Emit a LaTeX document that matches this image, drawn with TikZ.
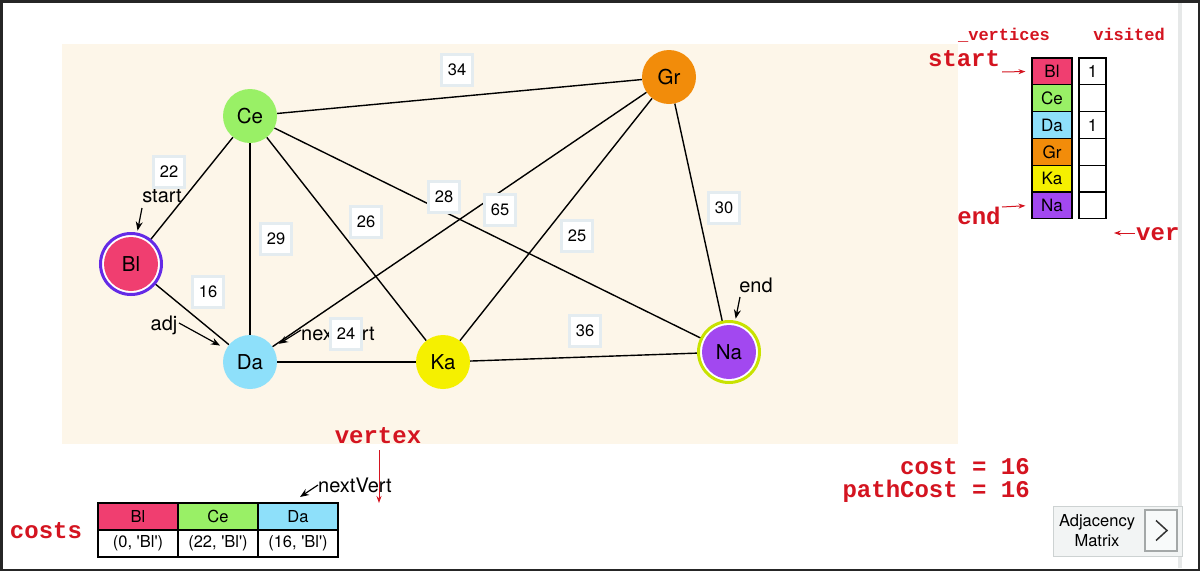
\documentclass[tikz,border=0pt]{standalone}
\usepackage{fontspec}
\setmainfont{TeX Gyre Heros}
\newfontfamily\monofont{Liberation Mono}
\usetikzlibrary{arrows.meta,calc}
\definecolor{cBl}{RGB}{240,62,112}
\definecolor{cCe}{RGB}{153,240,102}
\definecolor{cDa}{RGB}{142,224,250}
\definecolor{cGr}{RGB}{242,140,10}
\definecolor{cKa}{RGB}{245,240,0}
\definecolor{cNa}{RGB}{162,72,240}
\definecolor{ringBl}{RGB}{100,42,230}
\definecolor{ringNa}{RGB}{200,226,0}
\definecolor{codered}{RGB}{212,20,32}
\definecolor{panel}{RGB}{253,246,233}
\definecolor{lblborder}{RGB}{228,236,240}
\definecolor{btnfill}{RGB}{242,244,244}
\definecolor{btnline}{RGB}{205,210,210}
\definecolor{strip}{RGB}{230,232,232}
\pgfdeclarelayer{back}
\pgfsetlayers{back,main}
\tikzset{
  vtx/.style={circle, minimum size=54pt, inner sep=0pt, font=\fontsize{20.5}{20.5}\selectfont},
  ring/.style={circle, minimum size=61pt, inner sep=0pt, line width=3pt, fill=white},
  wlabel/.style={draw=lblborder, line width=3.5pt, fill=white, minimum width=31pt, minimum height=31pt, inner sep=0pt, font=\fontsize{16.5}{16.5}\selectfont},
  annot/.style={font=\fontsize{20}{20}\selectfont, inner sep=0pt, anchor=base},
  annarrow/.style={-{Stealth[length=9pt,width=7pt]}, line width=1.2pt},
  redtxt/.style={text=codered, font=\monofont\bfseries\fontsize{24}{24}\selectfont, inner sep=0pt, anchor=base},
  redsmall/.style={text=codered, font=\monofont\bfseries\fontsize{17}{17}\selectfont, inner sep=0pt, anchor=base},
  redarrow/.style={-{Stealth[length=7pt,width=5pt]}, draw=codered, line width=1pt},
  graphedge/.style={line width=1.4pt},
  vcell/.style={draw, line width=1.2pt, minimum width=40pt, minimum height=26.8pt, inner sep=0pt, font=\fontsize{17}{17}\selectfont},
  viscell/.style={draw, line width=1.2pt, minimum width=27pt, minimum height=26.8pt, inner sep=0pt, font=\fontsize{17}{17}\selectfont},
  ccell/.style={draw, line width=1.2pt, minimum width=80pt, minimum height=27pt, inner sep=0pt, font=\fontsize{16.5}{16.5}\selectfont},
}
\begin{document}
\begin{tikzpicture}[x=1pt,y=-1pt]
\useasboundingbox (0,0) rectangle (1200,571);
\begin{pgfonlayer}{back}
\fill[white] (0,0) rectangle (1200,571);
\fill[strip] (1178,2) rectangle (1182,568);
\fill[panel] (62,44) rectangle (958,444);
\end{pgfonlayer}

% annotations (under label boxes)
\node[annot] (aStart) at (162,202) {start};
\node[annot] (aAdj) at (164,330) {adj};
\node[annot, anchor=base west] (aNext) at (301,340) {nextVert};
\node[annot] (aEnd) at (756,292) {end};

% edge label boxes
\node[wlabel] (w34) at (457,70) {34};
\node[wlabel] (w22) at (169,172) {22};
\node[wlabel] (w29) at (276,239) {29};
\node[wlabel] (w16) at (208,292) {16};
\node[wlabel] (w24) at (346,334) {24};
\node[wlabel] (w26) at (366,222) {26};
\node[wlabel] (w28) at (444,197) {28};
\node[wlabel] (w65) at (500,210) {65};
\node[wlabel] (w25) at (577,236) {25};
\node[wlabel] (w30) at (724,208) {30};
\node[wlabel] (w36) at (585,331) {36};

% vertices
\node[ring, draw=ringBl] (BlR) at (131,264) {};
\node[ring, draw=ringNa] (NaR) at (729,352) {};
\node[vtx, fill=cCe] (Ce) at (250,116) {Ce};
\node[vtx, fill=cGr] (Gr) at (669,77) {Gr};
\node[vtx, fill=cBl] (Bl) at (131,264) {Bl};
\node[vtx, fill=cDa] (Da) at (250,362) {Da};
\node[vtx, fill=cKa] (Ka) at (443,362) {Ka};
\node[vtx, fill=cNa] (Na) at (729,352) {Na};

\begin{pgfonlayer}{back}
\draw[graphedge] (Ce) -- (Gr);
\draw[graphedge] (Ce) -- (Bl);
\draw[graphedge] (Ce) -- (Da);
\draw[graphedge] (Ce) -- (Ka);
\draw[graphedge] (Ce) -- (Na);
\draw[graphedge] (Gr) -- (Da);
\draw[graphedge] (Gr) -- (Ka);
\draw[graphedge] (Gr) -- (Na);
\draw[graphedge] (Bl) -- (Da);
\draw[graphedge] (Da) -- (Ka);
\draw[graphedge] (Ka) -- (Na);
\end{pgfonlayer}

% annotation arrows
\coordinate (sStart) at (142,208);
\coordinate (sAdj) at (179,323);
\coordinate (sNext) at (301,330);
\coordinate (sEnd) at (740,297);
\draw[annarrow, shorten >=2pt] (sStart) -- (BlR);
\draw[annarrow, shorten >=7pt] (sAdj) -- (Da);
\draw[annarrow, shorten >=7pt] (sNext) -- (Da);
\draw[annarrow, shorten >=2pt] (sEnd) -- (NaR);

% vertex table
\node[redsmall] (lVert) at (1004,40) {\_vertices};
\node[redsmall] (lVis) at (1129,40) {visited};
\foreach \n/\c [count=\i from 0] in {Bl/cBl,Ce/cCe,Da/cDa,Gr/cGr,Ka/cKa,Na/cNa} {
  \node[vcell, fill=\c] (t\n) at (1052,{71.4+26.8*\i}) {\n};
  \node[viscell] (s\n) at (1092.5,{71.4+26.8*\i}) {};
}
\node[font=\fontsize{17}{17}\selectfont] at (sBl) {1};
\node[font=\fontsize{17}{17}\selectfont] at (sDa) {1};
\node[redtxt] (rStart) at (964,66) {start};
\node[redtxt] (rEnd) at (979,224) {end};
\coordinate (aS) at (1002,72);
\coordinate (aE) at (1002,207);
\draw[redarrow, shorten >=6pt] (aS) -- (tBl.west);
\draw[redarrow, shorten >=6pt] (aE) -- (tNa.west);
\node[redtxt, anchor=base west] (rVer) at (1136,240) {ver};
\coordinate (verTip) at (1114,233);
\coordinate (verS) at (1135,233);
\draw[redarrow] (verS) -- (verTip);

% costs table
\node[redtxt] (rCosts) at (46,538) {costs};
\node[ccell, fill=cBl] (hBl) at (138,516.5) {Bl};
\node[ccell, fill=cCe] (hCe) at (218,516.5) {Ce};
\node[ccell, fill=cDa] (hDa) at (298,516.5) {Da};
\node[ccell, fill=white] (cBl0) at (138,543.5) {(0, \textquotesingle Bl\textquotesingle)};
\node[ccell, fill=white] (cCe0) at (218,543.5) {(22, \textquotesingle Bl\textquotesingle)};
\node[ccell, fill=white] (cDa0) at (298,543.5) {(16, \textquotesingle Bl\textquotesingle)};
\node[annot, anchor=base west] (bNext) at (318,492) {nextVert};
\coordinate (bNextS) at (318,485);
\coordinate (bNextT) at (300,497);
\draw[annarrow] (bNextS) -- (bNextT);
\node[redtxt] (rVertex) at (378,443) {vertex};
\coordinate (vtxS) at (379,450);
\coordinate (vtxTip) at (379,503);
\draw[redarrow] (vtxS) -- (vtxTip);

% costs text
\node[redtxt, anchor=base east] (rCost) at (1030,474) {cost = 16};
\node[redtxt, anchor=base east] (rPath) at (1030,497) {pathCost = 16};

% button
\node[draw=btnline, fill=btnfill, line width=1pt, minimum width=129pt, minimum height=50pt, inner sep=0pt] (btn) at (1117.5,531) {};
\node[align=center, font=\fontsize{16.5}{20}\selectfont] (btnTxt) at (1097,531) {Adjacency\\Matrix};
\node[draw=btnline!80!black, fill=btnfill!50!white, line width=1.2pt, minimum width=32pt, minimum height=41pt, inner sep=0pt] (btnArr) at (1161,530.5) {};
\draw[line width=1.5pt, color=black!80] ($(btnArr.center)+(-5,-10)$) -- ($(btnArr.center)+(6,0)$) -- ($(btnArr.center)+(-5,10)$);

% outer frame
\draw[line width=2.5pt, color=black!85] (1.25,1.25) rectangle (1198.75,569.75);
\end{tikzpicture}
\end{document}
